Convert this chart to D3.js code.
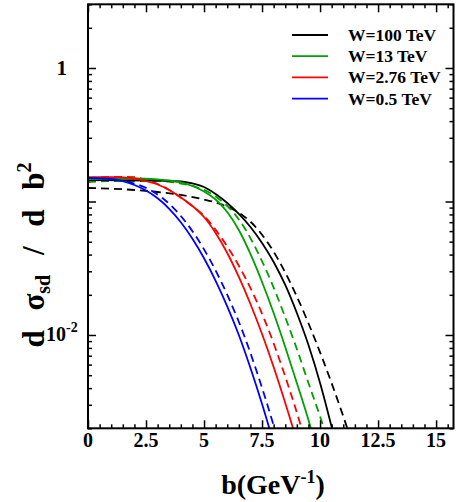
<!DOCTYPE html>
<meta charset="utf-8">
<head>
<title>d sigma_sd / d b^2</title>
<script src="https://cdn.jsdelivr.net/npm/d3@7"></script>
</head>
<style>
html, body {
  margin: 0;
  background: white;
  overflow: hidden;
}
text {
  font-family: "Liberation Serif", "Times New Roman", serif;
  font-weight: bold;
  fill: black;
}
.axis path { display: none; }
.axis line { stroke: black; stroke-width: 1.5px; }
.curve { fill: none; stroke-width: 1.8px; }
</style>
<body>
<script>

// impact parameter b (GeV^-1) and d sigma_sd / d b^2
var seriesNames = ["W=100 TeV", "W=13 TeV", "W=2.76 TeV", "W=0.5 TeV"];
var seriesColors = ["#000000", "#00a000", "#ff0000", "#0000ff"];

// solid curves
var b100 = [0, 3, 4, 4.5, 5, 5.5, 6, 6.5, 7, 7.5, 8, 8.5, 9, 9.5, 10, 10.5, 10.8];
var v100 = [0.1449, 0.1436, 0.1412, 0.1364, 0.1284, 0.1138, 0.09745, 0.08060, 0.06440, 0.04889, 0.03522, 0.02369, 0.01461, 0.008415, 0.004370, 0.002045, 0.001262];
var b13 = [0, 2, 3, 3.5, 4, 4.5, 5, 5.5, 6, 6.5, 7, 7.5, 8, 8.5, 9, 9.5, 9.7, 9.9];
var v13 = [0.1474, 0.1487, 0.1461, 0.1436, 0.1388, 0.1306, 0.1188, 0.1035, 0.08343, 0.06115, 0.04044, 0.02495, 0.01461, 0.008130, 0.004370, 0.002308, 0.001751, 0.001329];
var b276 = [0, 1, 2, 2.5, 3, 3.5, 4, 4.5, 5, 5.5, 6, 6.5, 7, 7.5, 8, 8.5, 9, 9.2];
var v276 = [0.1523, 0.1523, 0.1487, 0.1424, 0.1341, 0.1219, 0.1071, 0.09253, 0.07654, 0.05807, 0.04114, 0.02719, 0.01707, 0.01017, 0.005757, 0.003094, 0.001607, 0.001219];
var b05 = [0, 1, 1.5, 2, 2.5, 3, 3.5, 4, 4.5, 5, 5.5, 6, 6.5, 7, 7.5, 8];
var v05 = [0.1500, 0.1474, 0.1419, 0.1329, 0.1209, 0.1057, 0.08817, 0.06985, 0.05253, 0.03754, 0.02547, 0.01641, 0.01000, 0.005659, 0.003042, 0.001552];

// dashed curves
var b100d = [0, 1, 2, 3, 4, 5, 5.5, 6, 6.5, 7, 7.5, 8, 8.5, 9, 9.5, 10, 10.5, 11, 11.3];
var v100d = [0.1262, 0.1247, 0.1219, 0.1178, 0.1119, 0.1035, 0.09829, 0.09142, 0.08243, 0.07058, 0.05639, 0.04207, 0.02938, 0.01943, 0.01224, 0.007418, 0.004347, 0.002460, 0.001722];
var b13d = [0, 1.5, 3, 4, 4.65, 5.15, 5.67, 6.25, 6.8, 7.35, 7.9, 8.43, 8.97, 9.5, 10.05, 10.27, 10.49];
var v13d = [0.1400, 0.1424, 0.1424, 0.1364, 0.1284, 0.1188, 0.1035, 0.08343, 0.06115, 0.04044, 0.02495, 0.01461, 0.008130, 0.004370, 0.002308, 0.001751, 0.001329];
var b276d = [0, 1.3, 2, 2.5, 3, 3.5, 4, 4.5, 5.05, 5.6, 6.18, 6.76, 7.32, 7.85, 8.36, 8.87, 9.37];
var v276d = [0.1500, 0.1531, 0.1523, 0.1449, 0.1352, 0.1219, 0.1071, 0.09253, 0.07654, 0.05807, 0.04114, 0.02719, 0.01707, 0.01017, 0.005757, 0.003094, 0.001607];
var b05d = [0, 1, 1.6, 2.2, 2.72, 3.22, 3.72, 4.22, 4.72, 5.22, 5.72, 6.22, 6.72, 7.22, 7.72, 8.22];
var v05d = [0.1474, 0.1467, 0.1419, 0.1329, 0.1209, 0.1057, 0.08817, 0.06985, 0.05253, 0.03754, 0.02547, 0.01641, 0.01000, 0.005659, 0.003042, 0.001552];

var xMajor = [0, 2.5, 5, 7.5, 10, 12.5, 15];
var xLabels = ["0", "2.5", "5", "7.5", "10", "12.5", "15"];

var width = 456, height = 502;
var plotL = 88, plotR = 453.5, plotT = 4.3, plotB = 428.3;

var svg = d3.select("body").append("svg")
    .attr("width", width)
    .attr("height", height);

var x = d3.scaleLinear().domain([0, 15.75]).range([plotL, plotR]);
var y = d3.scaleLog().domain([0.002, 3]).range([plotB, plotT]);

var curves = [
  {b: b100, v: v100, c: 0, dash: false},
  {b: b100d, v: v100d, c: 0, dash: true},
  {b: b13, v: v13, c: 1, dash: false},
  {b: b13d, v: v13d, c: 1, dash: true},
  {b: b276, v: v276, c: 2, dash: false},
  {b: b276d, v: v276d, c: 2, dash: true},
  {b: b05, v: v05, c: 3, dash: false},
  {b: b05d, v: v05d, c: 3, dash: true}
];

svg.append("clipPath").attr("id", "clip")
  .append("rect")
    .attr("x", plotL).attr("y", plotT)
    .attr("width", plotR - plotL).attr("height", plotB - plotT);

var line = d3.line()
    .x(function (d) { return x(d[0]); })
    .y(function (d) { return y(d[1]); })
    .curve(d3.curveMonotoneX);

// draw dashed first so the solid ones sit on top
var order = [1, 3, 5, 7, 0, 2, 4, 6];
svg.append("g").attr("clip-path", "url(#clip)")
  .selectAll("path")
  .data(order.map(function (i) { return curves[i]; }))
  .enter().append("path")
    .attr("class", "curve")
    .attr("stroke", function (d) { return seriesColors[d.c]; })
    .attr("stroke-dasharray", function (d) { return d.dash ? "8,5" : null; })
    .attr("d", function (d) {
      return line(d.b.map(function (b, i) { return [b, d.v[i]]; }));
    });

// minor ticks every 0.5
var xMinor = d3.range(0, 15.76, 0.5).filter(function (t) { return xMajor.indexOf(t) < 0; });

// log ticks: 2..9 per decade
var yMinor = [], yMajor = [0.01, 0.1, 1];
[0.001, 0.01, 0.1, 1].forEach(function (dec) {
  for (var k = 2; k <= 9; k++) {
    var t = dec * k;
    if (t >= 0.002 && t <= 3) yMinor.push(t);
  }
});

function addAxis(axisFn, scale, vals, size, tr) {
  svg.append("g").attr("class", "axis")
    .attr("transform", tr)
    .call(axisFn(scale).tickValues(vals).tickSize(size).tickFormat(""));
}

addAxis(d3.axisBottom, x, xMajor, -8, "translate(0," + plotB + ")");
addAxis(d3.axisBottom, x, xMinor, -4, "translate(0," + plotB + ")");
addAxis(d3.axisTop, x, xMajor, -8, "translate(0," + plotT + ")");
addAxis(d3.axisTop, x, xMinor, -4, "translate(0," + plotT + ")");
addAxis(d3.axisLeft, y, yMajor, -8, "translate(" + plotL + ",0)");
addAxis(d3.axisLeft, y, yMinor, -4, "translate(" + plotL + ",0)");
addAxis(d3.axisRight, y, yMajor, -8, "translate(" + plotR + ",0)");
addAxis(d3.axisRight, y, yMinor, -4, "translate(" + plotR + ",0)");

// frame
svg.append("rect")
    .attr("x", plotL).attr("y", plotT)
    .attr("width", plotR - plotL).attr("height", plotB - plotT)
    .attr("fill", "none")
    .attr("stroke", "black")
    .attr("stroke-width", 2);

// x tick labels
svg.append("g").selectAll("text")
  .data(xMajor)
  .enter().append("text")
    .attr("x", function (d) { return x(d); })
    .attr("y", 447)
    .attr("text-anchor", "middle")
    .attr("font-size", 20)
    .text(function (d, i) { return xLabels[i]; });

// y tick labels, only 1 and 10^-2
svg.append("text")
    .attr("x", 67).attr("y", y(1) + 7)
    .attr("text-anchor", "end")
    .attr("font-size", 21)
    .text("1");

var t2 = svg.append("text")
    .attr("x", 46).attr("y", y(0.01) + 6)
    .attr("font-size", 20);
t2.append("tspan").text("10");
t2.append("tspan").attr("dy", -9).attr("font-size", 14).text("-2");

// axis titles
var xt = svg.append("text")
    .attr("x", 273).attr("y", 494)
    .attr("text-anchor", "middle")
    .attr("font-size", 28);
xt.append("tspan").text("b(GeV");
xt.append("tspan").attr("dy", -11).attr("font-size", 18).text("-1");
xt.append("tspan").attr("dy", 11).text(")");

var yt = svg.append("text")
    .attr("transform", "translate(44,255) rotate(-90)")
    .attr("text-anchor", "middle")
    .attr("font-size", 31)
    .style("word-spacing", "12px");
yt.append("tspan").text("d \u03c3");
yt.append("tspan").attr("dy", 6).attr("font-size", 20).text("sd");
yt.append("tspan").attr("dy", -6).text(" / d b");
yt.append("tspan").attr("dy", -13).attr("font-size", 20).text("2");

// legend
var legend = svg.append("g").selectAll("g")
  .data(seriesNames)
  .enter().append("g")
    .attr("transform", function (d, i) { return "translate(0," + (35 + i * 21.2) + ")"; });

legend.append("line")
    .attr("x1", 292).attr("x2", 328)
    .attr("stroke", function (d, i) { return seriesColors[i]; })
    .attr("stroke-width", 1.8);

legend.append("text")
    .attr("x", 348).attr("y", 6)
    .attr("font-size", 17.5)
    .text(function (d) { return d; });

</script>
</body>
